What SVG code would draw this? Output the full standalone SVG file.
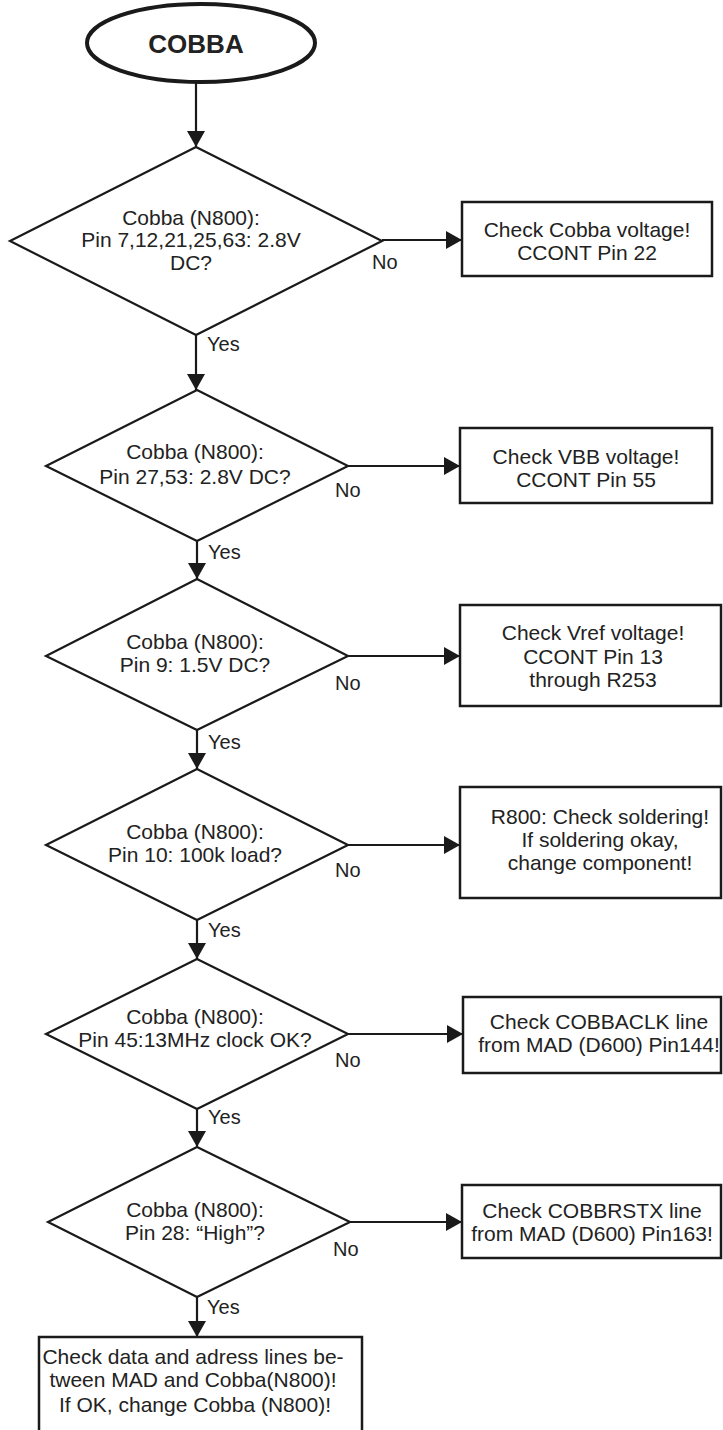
<svg xmlns="http://www.w3.org/2000/svg" width="723" height="1430" viewBox="0 0 723 1430">
<defs>
<marker id="ah" markerUnits="userSpaceOnUse" markerWidth="16" markerHeight="18" refX="16" refY="9" orient="auto">
<path d="M0,0 L16,9 L0,18 Z" fill="#1a1a1a"/>
</marker>
<style>
.t{font-family:"Liberation Sans",Arial,sans-serif;font-size:21px;fill:#222;text-anchor:middle}
.l{font-family:"Liberation Sans",Arial,sans-serif;font-size:20px;fill:#222}
.d{fill:#fff;stroke:#1a1a1a;stroke-width:2.2}
.b{fill:#fff;stroke:#1a1a1a;stroke-width:2.5}
.c{fill:none;stroke:#1a1a1a;stroke-width:2.2;marker-end:url(#ah)}
</style>
</defs>
<rect width="723" height="1430" fill="#fff"/>
<g id="connectors">
<line class="c" x1="196" y1="83" x2="196" y2="147"/>
<line class="c" x1="196" y1="335" x2="196" y2="390"/>
<line class="c" x1="197" y1="541" x2="197" y2="579"/>
<line class="c" x1="197" y1="730" x2="197" y2="769"/>
<line class="c" x1="197" y1="920" x2="197" y2="959"/>
<line class="c" x1="197" y1="1109" x2="197" y2="1147"/>
<line class="c" x1="197" y1="1297" x2="197" y2="1337"/>
<line class="c" x1="382" y1="240" x2="462" y2="240"/>
<line class="c" x1="348" y1="466" x2="460" y2="466"/>
<line class="c" x1="348" y1="656" x2="460" y2="656"/>
<line class="c" x1="348" y1="845" x2="460" y2="845"/>
<line class="c" x1="348" y1="1034" x2="463" y2="1034"/>
<line class="c" x1="350" y1="1222" x2="462" y2="1222"/>
<text class="l" x="372" y="269">No</text>
<text class="l" x="207" y="351">Yes</text>
<text class="l" x="335" y="497">No</text>
<text class="l" x="208" y="559">Yes</text>
<text class="l" x="335" y="690">No</text>
<text class="l" x="208" y="749">Yes</text>
<text class="l" x="335" y="877">No</text>
<text class="l" x="208" y="937">Yes</text>
<text class="l" x="335" y="1067">No</text>
<text class="l" x="208" y="1124">Yes</text>
<text class="l" x="333" y="1256">No</text>
<text class="l" x="207" y="1314">Yes</text>
</g>
<g id="start">
<ellipse cx="201" cy="43" rx="114" ry="39" fill="#fff" stroke="#1a1a1a" stroke-width="4"/>
<text x="196" y="53" font-family="Liberation Sans, Arial, sans-serif" font-size="26" font-weight="bold" fill="#222" text-anchor="middle">COBBA</text>
</g>
<g id="d1">
<polygon class="d" points="196,147 382,241 196,335 10,241"/>
<text class="t" x="191" y="225">Cobba (N800):</text>
<text class="t" x="191" y="247">Pin 7,12,21,25,63: 2.8V</text>
<text class="t" x="191" y="270">DC?</text>
</g>
<g id="b1">
<rect class="b" x="462" y="202" width="250" height="74"/>
<text class="t" x="587" y="237">Check Cobba voltage!</text>
<text class="t" x="587" y="260">CCONT Pin 22</text>
</g>
<g id="d2">
<polygon class="d" points="197,390 348,466 197,541 46,466"/>
<text class="t" x="195" y="459">Cobba (N800):</text>
<text class="t" x="195" y="484">Pin 27,53: 2.8V DC?</text>
</g>
<g id="b2">
<rect class="b" x="460" y="428" width="252" height="75"/>
<text class="t" x="586" y="464">Check VBB voltage!</text>
<text class="t" x="586" y="487">CCONT Pin 55</text>
</g>
<g id="d3">
<polygon class="d" points="197,579 348,656 197,730 46,656"/>
<text class="t" x="195" y="649">Cobba (N800):</text>
<text class="t" x="195" y="672">Pin 9: 1.5V DC?</text>
</g>
<g id="b3">
<rect class="b" x="460" y="605" width="261" height="101"/>
<text class="t" x="593" y="640">Check Vref voltage!</text>
<text class="t" x="593" y="664">CCONT Pin 13</text>
<text class="t" x="593" y="687">through R253</text>
</g>
<g id="d4">
<polygon class="d" points="197,769 348,845 197,920 46,845"/>
<text class="t" x="195" y="839">Cobba (N800):</text>
<text class="t" x="195" y="862">Pin 10: 100k load?</text>
</g>
<g id="b4">
<rect class="b" x="460" y="787" width="261" height="111"/>
<text class="t" x="600" y="824">R800: Check soldering!</text>
<text class="t" x="600" y="847">If soldering okay,</text>
<text class="t" x="600" y="870">change component!</text>
</g>
<g id="d5">
<polygon class="d" points="197,959 348,1034 197,1109 46,1034"/>
<text class="t" x="195" y="1024">Cobba (N800):</text>
<text class="t" x="195" y="1047">Pin 45:13MHz clock OK?</text>
</g>
<g id="b5">
<rect class="b" x="463" y="997" width="258" height="76"/>
<text class="t" x="599" y="1029">Check COBBACLK line</text>
<text class="t" x="599" y="1052">from MAD (D600) Pin144!</text>
</g>
<g id="d6">
<polygon class="d" points="197,1147 350,1222 197,1297 48,1222"/>
<text class="t" x="195" y="1217">Cobba (N800):</text>
<text class="t" x="195" y="1240">Pin 28: “High”?</text>
</g>
<g id="b6">
<rect class="b" x="462" y="1185" width="259" height="73"/>
<text class="t" x="592" y="1218">Check COBBRSTX line</text>
<text class="t" x="592" y="1241">from MAD (D600) Pin163!</text>
</g>
<g id="end">
<rect class="b" x="39" y="1337" width="323" height="110"/>
<text class="t" x="193" y="1364">Check data and adress lines be-</text>
<text class="t" x="193" y="1387">tween MAD and Cobba(N800)!</text>
<text class="t" x="195" y="1412">If OK, change Cobba (N800)!</text>
</g>
</svg>
